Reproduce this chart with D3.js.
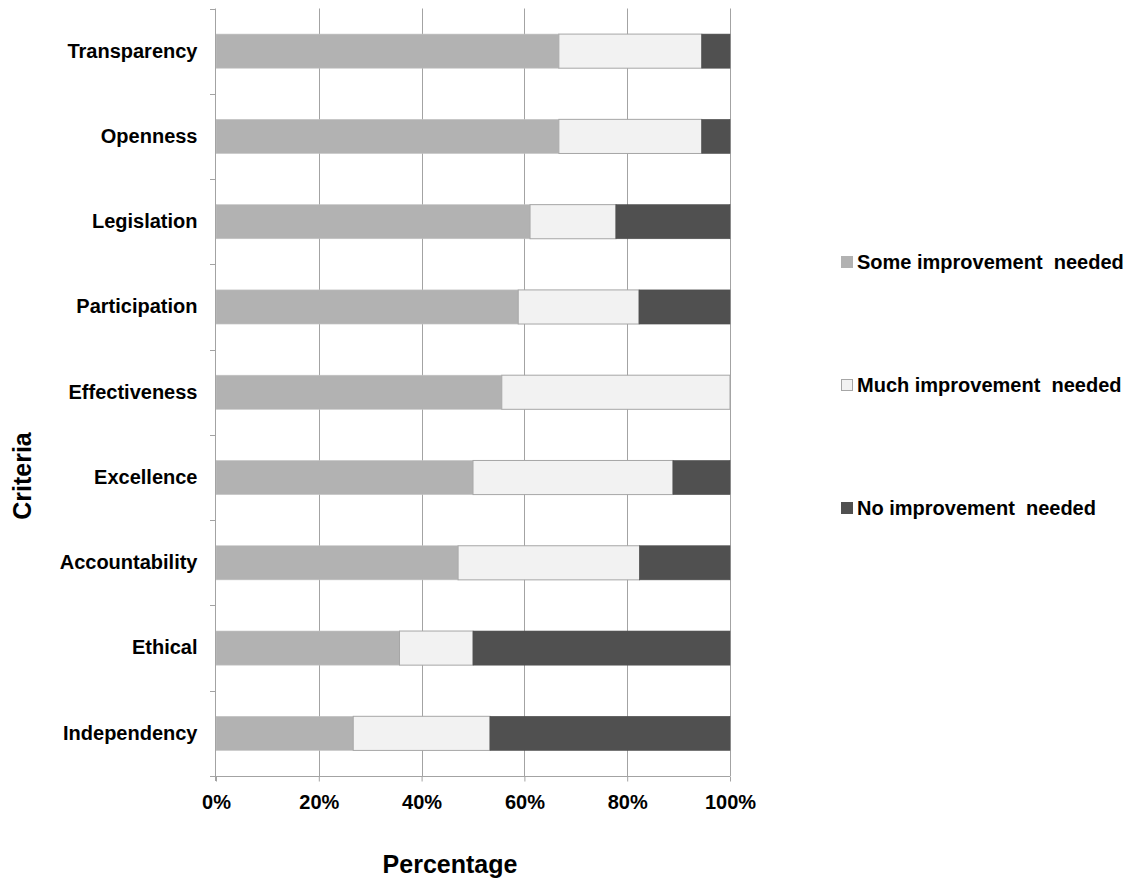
<!DOCTYPE html>
<html>
<head>
<meta charset="utf-8">
<script src="https://cdn.jsdelivr.net/npm/d3@7"></script>
<style>
  html, body { margin: 0; padding: 0; background: #fff; }
  svg { display: block; font-family: "Liberation Sans", Arial, sans-serif; font-weight: bold; }
</style>
</head>
<body>
<svg id="chart" width="1125" height="881"></svg>
<script>
// Criteria, listed top to bottom
const categories = ["Transparency", "Openness", "Legislation", "Participation",
  "Effectiveness", "Excellence", "Accountability", "Ethical", "Independency"];

// Share of responses per criterion (%)
const someImprovement = [66.7, 66.7, 61.1, 58.8, 55.6, 50.0, 47.1, 35.7, 26.7];
const muchImprovement = [27.8, 27.8, 16.7, 23.5, 44.4, 38.9, 35.3, 14.3, 26.6];
const noImprovement   = [5.5, 5.5, 22.2, 17.7, 0.0, 11.1, 17.6, 50.0, 46.7];

const seriesNames = ["Some improvement  needed", "Much improvement  needed", "No improvement  needed"];
const tickValues = [0, 20, 40, 60, 80, 100];
const axisTitleX = "Percentage";
const axisTitleY = "Criteria";

const colors = ["#b2b2b2", "#f2f2f2", "#505050"];
const strokes = ["#c4c4c4", "#a6a6a6", "#505050"];

const svg = d3.select("#chart");
const plotLeft = 216, plotRight = 730, plotTop = 8.5, plotBottom = 776;

const x = d3.scaleLinear().domain([0, 100]).range([plotLeft, plotRight]);
const y = d3.scaleBand().domain(categories).range([plotTop, plotBottom])
  .paddingInner(0.6).paddingOuter(0.3);

// vertical gridlines
svg.append("g").selectAll("line")
  .data(tickValues.filter(d => d > 0))
  .join("line")
  .attr("x1", d => Math.round(x(d)) + 0.5).attr("x2", d => Math.round(x(d)) + 0.5)
  .attr("y1", plotTop).attr("y2", plotBottom)
  .attr("stroke", "#a3a3a3").attr("stroke-width", 1);

// stacked bars
const rows = categories.map((c, i) => ({
  cat: c, vals: [someImprovement[i], muchImprovement[i], noImprovement[i]]
}));
const stack = d3.stack().keys([0, 1, 2]).value((d, k) => d.vals[k]);
const layers = stack(rows);

layers.forEach((layer, k) => {
  svg.append("g").selectAll("rect")
    .data(layer.filter(d => d[1] - d[0] > 0))
    .join("rect")
    .attr("x", d => x(d[0]))
    .attr("width", d => x(d[1]) - x(d[0]))
    .attr("y", d => y(d.data.cat))
    .attr("height", y.bandwidth())
    .attr("fill", colors[k])
    .attr("stroke", strokes[k])
    .attr("stroke-width", k === 1 ? 1 : 0.6);
});

// x axis
const xAxis = d3.axisBottom(x).tickValues(tickValues).tickFormat(d => d + "%")
  .tickSize(5).tickPadding(13);
const gx = svg.append("g").attr("transform", `translate(0,${plotBottom + 0.5})`).call(xAxis);
gx.select(".domain").attr("stroke", "#a3a3a3").attr("d", `M${plotLeft - 5},0H${plotRight}`);
gx.selectAll(".tick line").attr("stroke", "#a3a3a3");
gx.selectAll(".tick text").attr("fill", "#000").attr("font-size", 20)
  .attr("font-family", "Liberation Sans, Arial, sans-serif").attr("font-weight", "bold");

// y axis
const yAxis = d3.axisLeft(y).tickSize(0).tickPadding(18);
const gy = svg.append("g").attr("transform", `translate(${plotLeft - 0.5},0)`).call(yAxis);
gy.select(".domain").attr("stroke", "#a3a3a3").attr("d", `M0,${plotTop}V${plotBottom + 5}`);
gy.selectAll(".tick text").attr("fill", "#000").attr("font-size", 20)
  .attr("font-family", "Liberation Sans, Arial, sans-serif").attr("font-weight", "bold");

// category separators on the y axis
const step = y.step();
svg.append("g").selectAll("line")
  .data(d3.range(categories.length + 1))
  .join("line")
  .attr("x1", plotLeft - 6).attr("x2", plotLeft)
  .attr("y1", i => Math.round(plotTop + i * step) + 0.5)
  .attr("y2", i => Math.round(plotTop + i * step) + 0.5)
  .attr("stroke", "#a3a3a3");

// axis titles
svg.append("text").attr("x", 450).attr("y", 873).attr("text-anchor", "middle")
  .attr("font-size", 25).text(axisTitleX);
svg.append("text").attr("transform", "translate(31,476) rotate(-90)")
  .attr("text-anchor", "middle").attr("font-size", 25).text(axisTitleY);

// legend
const legendY = [262, 385, 508];
const legend = svg.append("g").selectAll("g")
  .data(seriesNames)
  .join("g")
  .attr("transform", (d, i) => `translate(841,${legendY[i]})`);
legend.append("rect")
  .attr("x", 0.5).attr("y", -5.5).attr("width", 11).attr("height", 11)
  .attr("fill", (d, i) => colors[i])
  .attr("stroke", (d, i) => i === 1 ? "#a6a6a6" : colors[i]);
legend.append("text")
  .attr("x", 16).attr("y", 7).attr("font-size", 20)
  .style("white-space", "pre")
  .text(d => d);
</script>
</body>
</html>
